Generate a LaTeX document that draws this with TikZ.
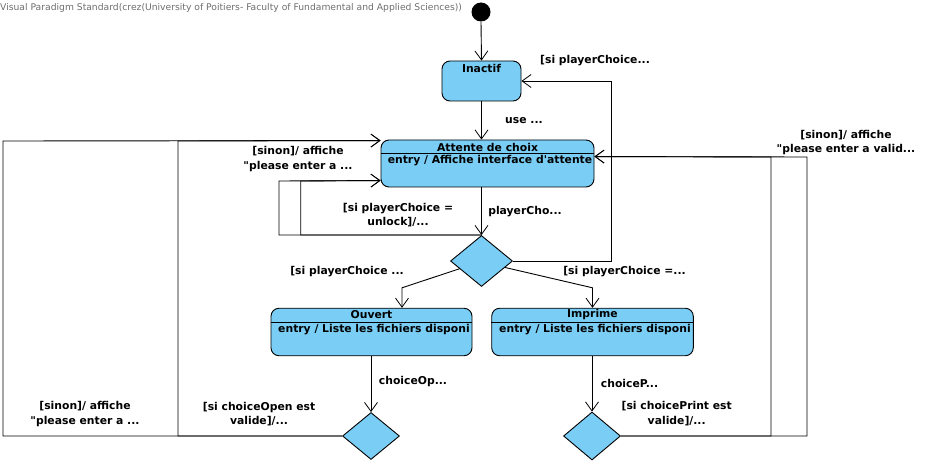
\documentclass[tikz,border=0pt]{standalone}
\usepackage{fontspec}
\setmainfont{DejaVu Sans}[Ligatures=TeXOff]
\usetikzlibrary{arrows.meta,shapes.geometric,calc}
\definecolor{stfill}{RGB}{122,206,245}
\definecolor{wmgray}{RGB}{110,110,110}
\begin{document}
\begin{tikzpicture}[x=1pt,y=-1pt,
  lbl/.style={font=\fontsize{10.8}{14.5}\selectfont\bfseries, inner sep=0pt, align=center},
  wmark/.style={font=\fontsize{9.2}{10}\selectfont, text=wmgray, inner sep=0pt},
  statebox/.style={draw=black, line width=0.9pt, fill=stfill, rounded corners=8pt, inner sep=0pt},
  decision/.style={draw=black, line width=0.9pt, fill=stfill, diamond, inner sep=0pt},
  arr/.style={draw=black, line width=0.9pt, -{Straight Barb[length=9pt,width=13pt,line width=0.8pt]}},
  divider/.style={draw=black, line width=0.9pt}]
\useasboundingbox (0,0) rectangle (927,465);

\node[wmark, anchor=west] (wm) at (0,7.5) {Visual Paradigm Standard(crez(University of Poitiers- Faculty of Fundamental and Applied Sciences))};

% initial
\node[circle, fill=black, minimum size=19pt, inner sep=0pt] (init) at (481,12) {};

% Inactif
\node[statebox, minimum width=79pt, minimum height=40pt] (inactif) at (481.5,81) {};
\node[lbl] (inactifT) at (481.5,68) {Inactif};

% Attente de choix
\node[statebox, minimum width=213pt, minimum height=47pt] (attente) at (487.5,163.5) {};
\node[lbl] (attT) at (487.5,147) {Attente de choix};
\node[lbl] (attE) at (490,160.5) {entry / Affiche interface d'attente};
\draw[divider] ($(attente.north west)+(0,14)$) -- ($(attente.north east)+(0,14)$);

% Ouvert
\node[statebox, minimum width=201pt, minimum height=47.5pt] (ouvert) at (371.5,332) {};
\node[lbl] (ouvT) at (371.5,315) {Ouvert};
\node[lbl] (ouvE) at (374,330) {entry / Liste les fichiers disponi};
\draw[divider] ($(ouvert.north west)+(0,14.5)$) -- ($(ouvert.north east)+(0,14.5)$);

% Imprime
\node[statebox, minimum width=201.6pt, minimum height=47.5pt] (imprime) at (592.5,332) {};
\node[lbl] (impT) at (592.5,315) {Imprime};
\node[lbl] (impE) at (595,330) {entry / Liste les fichiers disponi};
\draw[divider] ($(imprime.north west)+(0,14.5)$) -- ($(imprime.north east)+(0,14.5)$);

% decisions
\node[decision, minimum width=62pt, minimum height=51pt] (d1) at (481.5,261) {};
\node[decision, minimum width=57pt, minimum height=47pt] (d2) at (371,436) {};
\node[decision, minimum width=57pt, minimum height=48pt] (d3) at (592,436) {};

% helper coordinates
\coordinate (attTL) at ($(attente.north west)+(0,1)$);
\coordinate (attBL) at ($(attente.north west)+(0,41)$);
\coordinate (attR) at ($(attente.north east)+(0,17)$);
\coordinate (loopA) at (279,181);
\coordinate (loopB) at (300.7,181);
\coordinate (leftA) at (3,141);
\coordinate (leftB) at (178,141);
\coordinate (rightA) at (771,157);
\coordinate (rightB) at (807,157);
\coordinate (backX) at (611,81);
\coordinate (ouvIn) at ($(ouvert.north)+(30.5,0)$);
\coordinate (ouvBend) at ($(ouvert.north)+(30.5,-20)$);
\coordinate (impBend) at ($(imprime.north)+(0,-20)$);

% connectors
\draw[arr] (init.south) -- (inactif.north);
\draw[arr] (inactif.south) -- (inactif.south |- attente.north);
\draw[arr] (d1.north |- attente.south) -- (d1.north);
\draw[arr] (d1.east) -| (backX) -- (inactif.east);
\draw[arr] (d1.north) -| (loopA) -- (attBL);
\draw[arr] (d1.north) -| (loopB) -- (attBL);
\draw[arr] ($(d1.west)!0.3!(d1.south)$) -- (ouvBend) -- (ouvIn);
\draw[arr] ($(d1.east)!0.25!(d1.south)$) -- (impBend) -- (imprime.north);
\draw[arr] (d2.north |- ouvert.south) -- (d2.north);
\draw[arr] (d3.north |- imprime.south) -- (d3.north);
\draw[arr] (d2.west) -| (leftA) -- (attTL);
\draw[arr] (d2.west) -| (leftB) -- (attTL);
\draw[arr] (d3.east) -| (rightA) -- (attR);
\draw[arr] (d3.east) -| (rightB) -- (attR);

% labels
\node[lbl] (l1) at (595,61) {[si playerChoice...};
\node[lbl] (l2) at (524,120.5) {use ...};
\node[lbl] (l3) at (525,212) {playerCho...};
\node[lbl] (l4) at (398,215) {[si playerChoice =\\unlock]/...};
\node[lbl] (l5) at (298,159) {[sinon]/ affiche\\"please enter a ...};
\node[lbl] (l6) at (347,272) {[si playerChoice ...};
\node[lbl] (l7) at (624.5,272) {[si playerChoice =...};
\node[lbl] (l8) at (413,382) {choiceOp...};
\node[lbl] (l9) at (629.5,383) {choiceP...};
\node[lbl] (l10) at (85,414) {[sinon]/ affiche\\"please enter a ...};
\node[lbl] (l11) at (259,414) {[si choiceOpen est\\valide]/...};
\node[lbl] (l12) at (676.7,413.5) {[si choicePrint est\\valide]/...};
\node[lbl] (l13) at (846,142.5) {[sinon]/ affiche\\"please enter a valid...};
\end{tikzpicture}
\end{document}
